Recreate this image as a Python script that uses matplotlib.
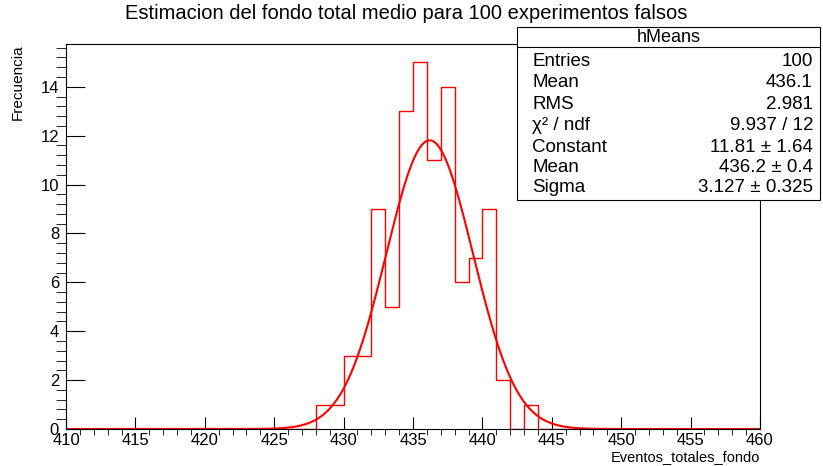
import numpy as np
import matplotlib
matplotlib.use("Agg")
import matplotlib.pyplot as plt
from matplotlib.ticker import MultipleLocator

plt.rcParams['font.family'] = ['Liberation Sans', 'DejaVu Sans']

# histogram hMeans: 50 bins of width 1 between 410 and 460
edges = np.arange(410, 461, 1)
bin_lo = [428, 429, 430, 431, 432, 433, 434, 435, 436, 437, 438, 439, 440, 441, 442, 443]
bin_counts = [1, 1, 3, 3, 9, 5, 13, 15, 11, 14, 6, 7, 9, 2, 0, 1]
counts = np.zeros(len(edges) - 1)
for lo, c in zip(bin_lo, bin_counts):
    counts[lo - 410] = c

# gaussian fit parameters
g_const = 11.81
g_mean = 436.2
g_sigma = 3.127

stat_names = ["Entries", "Mean", "RMS", "χ² / ndf", "Constant", "Mean", "Sigma"]
stat_values = ["100", "436.1", "2.981", "9.937 / 12", "11.81 ± 1.64",
               "436.2 ± 0.4", "3.127 ± 0.325"]

fig = plt.figure(figsize=(8.23, 4.66), dpi=100)
ax = fig.add_axes([66 / 823, 1 - 429 / 466, (760 - 66) / 823, (429 - 44) / 466])

ax.stairs(counts, edges, color='red', lw=1)
xf = np.linspace(410, 460, 600)
ax.plot(xf, g_const * np.exp(-0.5 * ((xf - g_mean) / g_sigma) ** 2), color='red', lw=1.5)

ax.set_xlim(410, 460)
ax.set_ylim(0, 15.75)
ax.xaxis.set_major_locator(MultipleLocator(5))
ax.xaxis.set_minor_locator(MultipleLocator(1))
ax.yaxis.set_major_locator(MultipleLocator(2))
ax.yaxis.set_minor_locator(MultipleLocator(0.4))
ax.tick_params(axis='both', direction='in', labelsize=12, width=0.8, top=False, right=False)
ax.tick_params(axis='x', which='major', length=9, pad=3)
ax.tick_params(axis='x', which='minor', length=4.5)
ax.tick_params(axis='y', which='major', length=14, pad=5)
ax.tick_params(axis='y', which='minor', length=7)
for s in ax.spines.values():
    s.set_linewidth(0.8)

ax.set_xlabel("Eventos_totales_fondo", fontsize=10.5, loc='right', labelpad=1)
ax.set_ylabel("Frecuencia", fontsize=11, loc='top', labelpad=11)

fig.text(0.493, 0.972, "Estimacion del fondo total medio para 100 experimentos falsos",
         ha='center', va='center', fontsize=14.5)

# stats box
bx0, bx1, by0, by1 = 517 / 823, 820 / 823, 1 - 200 / 466, 1 - 27 / 466
box = plt.Rectangle((bx0, by0), bx1 - bx0, by1 - by0, transform=fig.transFigure,
                    facecolor='white', edgecolor='black', lw=0.8, zorder=5)
fig.add_artist(box)
fig.add_artist(plt.Line2D([bx0, bx1], [1 - 47 / 466] * 2, transform=fig.transFigure,
                          color='black', lw=0.8, zorder=6))
fig.text((bx0 + bx1) / 2, 1 - 37 / 466, "hMeans", ha='center', va='center', fontsize=13, zorder=7)
row_y = [62, 83, 104, 125, 147, 168, 188]
for name, val, y in zip(stat_names, stat_values, row_y):
    fig.text(532 / 823, 1 - y / 466, name, ha='left', va='center', fontsize=13.5, zorder=7)
    fig.text(813 / 823, 1 - y / 466, val, ha='right', va='center', fontsize=13.5, zorder=7)

fig.savefig("out.png", dpi=100)
